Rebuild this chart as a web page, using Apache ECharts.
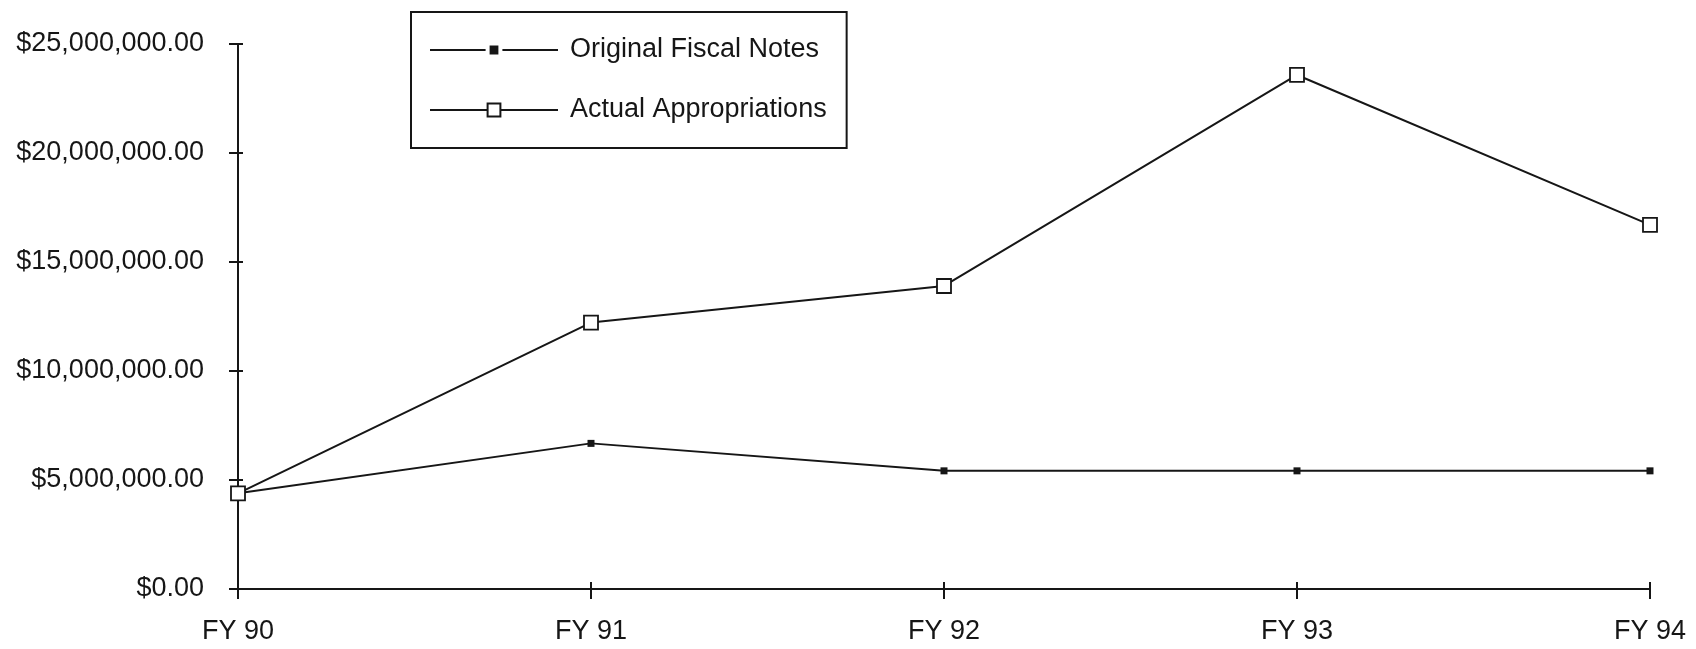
<!DOCTYPE html>
<html>
<head>
<meta charset="utf-8">
<script src="https://cdn.jsdelivr.net/npm/echarts@6/dist/echarts.min.js"></script>
<style>
  html, body { margin: 0; padding: 0; background: #ffffff; }
  #chart { width: 1696px; height: 649px; }
</style>
</head>
<body>
<div id="chart"></div>
<script>
// Fiscal years on the horizontal axis
var categories = ['FY 90', 'FY 91', 'FY 92', 'FY 93', 'FY 94'];
// Dollar amounts per year
var fiscalNotes = [4390000, 6680000, 5420000, 5420000, 5420000];
var appropriations = [4390000, 12220000, 13900000, 23580000, 16700000];
// Value axis range
var yMin = 0;
var yMax = 25000000;
var yStep = 5000000;

var FONT = "'Liberation Sans', Arial, Helvetica, sans-serif";
var INK = '#161616';

function money(v) {
  return '$' + Number(v).toLocaleString('en-US', { minimumFractionDigits: 2, maximumFractionDigits: 2 });
}

var chart = echarts.init(document.getElementById('chart'), null, { renderer: 'canvas' });

chart.setOption({
  backgroundColor: '#ffffff',
  animation: false,
  textStyle: { fontFamily: FONT },
  grid: { left: 238, right: 46, top: 44, bottom: 60, containLabel: false },
  legend: {
    orient: 'vertical',
    left: 411,
    top: 12,
    padding: [24, 20, 24, 18],
    itemWidth: 128,
    itemHeight: 16,
    itemGap: 32,
    borderColor: INK,
    borderWidth: 2,
    backgroundColor: '#ffffff',
    textStyle: { fontFamily: FONT, fontSize: 27, lineHeight: 28, color: INK, padding: [0, 0, 0, 7] },
    data: [
      // small solid square: a white rim trims the legend marker down
      { name: 'Original Fiscal Notes', itemStyle: { color: INK, borderColor: '#ffffff', borderWidth: 4 } },
      { name: 'Actual Appropriations' }
    ]
  },
  xAxis: [
    {
      type: 'category',
      data: categories,
      boundaryGap: false,
      axisLine: { lineStyle: { color: INK, width: 2 } },
      axisTick: { show: true, alignWithLabel: true, length: 10, lineStyle: { color: INK, width: 2 } },
      axisLabel: { fontFamily: FONT, fontSize: 27, color: INK, margin: 29 },
      splitLine: { show: false }
    },
    {
      // inner half of the crossing tick marks
      type: 'category',
      data: categories,
      boundaryGap: false,
      position: 'bottom',
      axisLine: { show: false },
      axisTick: { show: true, inside: true, length: 7, lineStyle: { color: INK, width: 2 } },
      axisLabel: { show: false },
      splitLine: { show: false }
    }
  ],
  yAxis: [
    {
      type: 'value',
      min: yMin,
      max: yMax,
      interval: yStep,
      axisLine: { show: true, lineStyle: { color: INK, width: 2 } },
      axisTick: { show: true, length: 9, lineStyle: { color: INK, width: 2 } },
      axisLabel: { fontFamily: FONT, fontSize: 27, color: INK, margin: 34, formatter: money },
      splitLine: { show: false }
    },
    {
      type: 'value',
      min: yMin,
      max: yMax,
      interval: yStep,
      position: 'left',
      axisLine: { show: false },
      axisTick: { show: true, inside: true, length: 5, lineStyle: { color: INK, width: 2 } },
      axisLabel: { show: false },
      splitLine: { show: false }
    }
  ],
  series: [
    {
      name: 'Original Fiscal Notes',
      type: 'line',
      data: fiscalNotes,
      symbol: 'rect',
      symbolSize: 7,
      showAllSymbol: true,
      lineStyle: { color: INK, width: 2 },
      itemStyle: { color: INK, borderColor: INK, borderWidth: 0 },
      z: 2
    },
    {
      name: 'Actual Appropriations',
      type: 'line',
      data: appropriations,
      symbol: 'rect',
      symbolSize: 14,
      showAllSymbol: true,
      lineStyle: { color: INK, width: 2 },
      itemStyle: { color: '#ffffff', borderColor: INK, borderWidth: 1.8 },
      z: 3
    }
  ]
});
</script>
</body>
</html>
